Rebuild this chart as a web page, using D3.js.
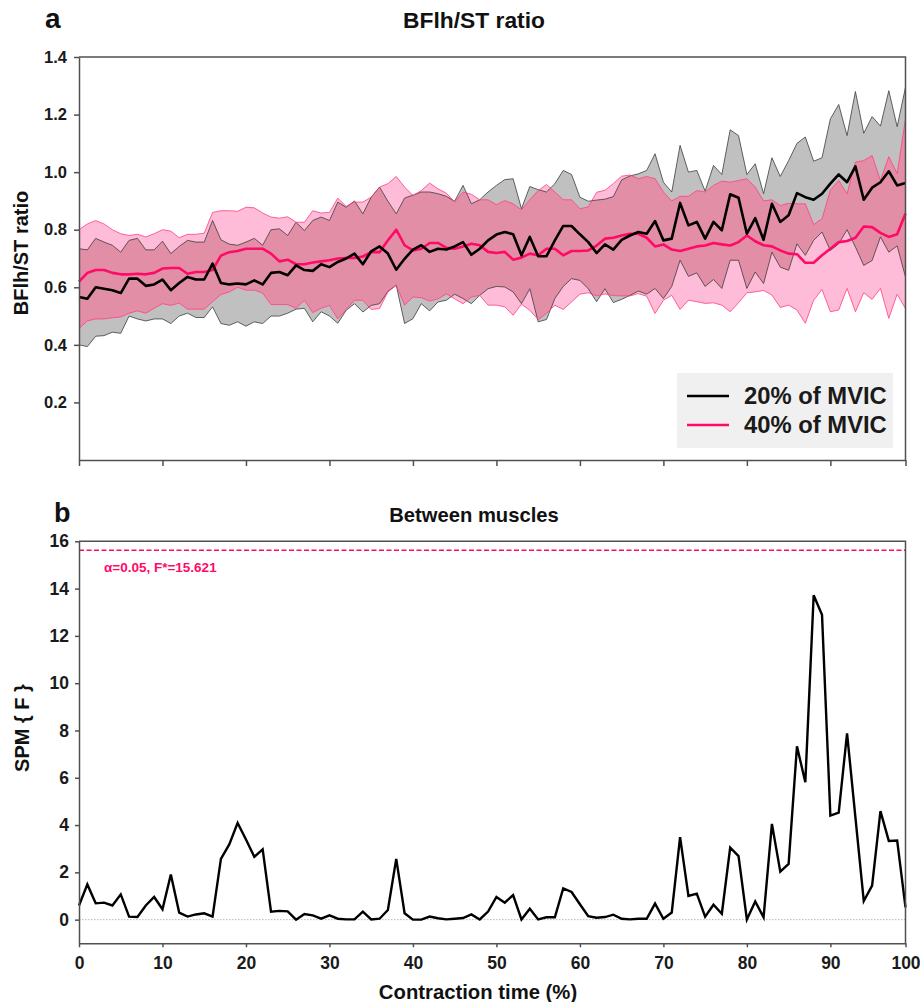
<!DOCTYPE html>
<html>
<head>
<meta charset="utf-8">
<script src="https://cdn.jsdelivr.net/npm/d3@7"></script>
<style>
  body { margin: 0; background: #fff; }
  svg { display: block; font-family: "Liberation Sans", Arial, sans-serif; font-weight: bold; }
  .axis path, .axis line { stroke: #505050; stroke-width: 1.5; }
  .axis text { fill: #1a1a1a; font-weight: bold; }
</style>
</head>
<body>
<div id="chart"></div>
<script>
/*global d3*/
(function () {
    "use strict";

    // contraction time index (0 .. 99), last tick labelled 100
    var timeIdx = d3.range(0, 100);
    var xTicks = [0, 10, 20, 30, 40, 50, 60, 70, 80, 90, 99];
    var xTickLabels = ["0", "10", "20", "30", "40", "50", "60", "70", "80", "90", "100"];
    var yTicksA = [0.2, 0.4, 0.6, 0.8, 1.0, 1.2, 1.4];
    var yTicksB = [0, 2, 4, 6, 8, 10, 12, 14, 16];

    // 20% MVIC: mean, mean+SD, mean-SD
    var mean20 = [
        0.566, 0.56, 0.60, 0.595, 0.59, 0.58, 0.63, 0.63, 0.605, 0.61,
        0.627, 0.59, 0.615, 0.636, 0.627, 0.627, 0.682, 0.615, 0.61, 0.613,
        0.61, 0.624, 0.61, 0.65, 0.653, 0.642, 0.676, 0.66, 0.657, 0.68,
        0.67, 0.688, 0.70, 0.717, 0.68, 0.725, 0.742, 0.717, 0.661, 0.699,
        0.731, 0.746, 0.723, 0.734, 0.731, 0.742, 0.757, 0.713, 0.734, 0.763,
        0.783, 0.792, 0.784, 0.711, 0.775, 0.708, 0.708, 0.763, 0.813, 0.813,
        0.784, 0.757, 0.719, 0.749, 0.731, 0.765, 0.780, 0.792, 0.786, 0.830,
        0.763, 0.769, 0.893, 0.815, 0.827, 0.769, 0.827, 0.798, 0.923, 0.911,
        0.786, 0.840, 0.765, 0.89, 0.827, 0.85, 0.927, 0.913, 0.904, 0.925,
        0.96, 0.992, 0.965, 1.02, 0.904, 0.946, 0.965, 1.003, 0.954, 0.962
    ];
    var upper20 = [
        0.734, 0.73, 0.77, 0.757, 0.746, 0.722, 0.763, 0.77, 0.73, 0.73,
        0.76, 0.717, 0.742, 0.763, 0.757, 0.757, 0.832, 0.765, 0.75, 0.746,
        0.757, 0.77, 0.746, 0.80, 0.803, 0.78, 0.826, 0.797, 0.832, 0.844,
        0.832, 0.896, 0.878, 0.90, 0.855, 0.913, 0.948, 0.899, 0.855, 0.91,
        0.92, 0.931, 0.931, 0.925, 0.916, 0.899, 0.954, 0.89, 0.904, 0.931,
        0.954, 0.974, 0.977, 0.873, 0.95, 0.939, 0.931, 0.96, 1.006, 0.992,
        0.913, 0.899, 0.903, 0.906, 0.915, 0.973, 0.987, 0.994, 1.006, 1.064,
        0.965, 0.931, 1.093, 1.0, 1.006, 0.934, 1.023, 0.992, 1.147, 1.127,
        0.992, 1.029, 0.925, 1.05, 0.985, 1.04, 1.10, 1.122, 1.038, 1.05,
        1.185, 1.235, 1.127, 1.28, 1.135, 1.193, 1.16, 1.283, 1.158, 1.295
    ];
    var lower20 = [
        0.40, 0.394, 0.43, 0.432, 0.444, 0.44, 0.50, 0.49, 0.483, 0.49,
        0.49, 0.474, 0.50, 0.51, 0.495, 0.495, 0.532, 0.474, 0.468, 0.48,
        0.465, 0.48, 0.474, 0.50, 0.50, 0.51, 0.524, 0.527, 0.48, 0.515,
        0.50, 0.475, 0.52, 0.543, 0.514, 0.537, 0.543, 0.586, 0.607, 0.474,
        0.491, 0.543, 0.518, 0.549, 0.555, 0.576, 0.561, 0.543, 0.572, 0.595,
        0.603, 0.601, 0.584, 0.543, 0.595, 0.480, 0.488, 0.561, 0.603, 0.630,
        0.624, 0.595, 0.55, 0.595, 0.547, 0.558, 0.572, 0.587, 0.576, 0.596,
        0.561, 0.603, 0.694, 0.638, 0.650, 0.603, 0.627, 0.596, 0.694, 0.694,
        0.596, 0.653, 0.613, 0.722, 0.670, 0.659, 0.751, 0.711, 0.763, 0.792,
        0.728, 0.751, 0.80, 0.74, 0.676, 0.693, 0.775, 0.722, 0.744, 0.636
    ];

    // 40% MVIC: mean, mean+SD, mean-SD
    var mean40 = [
        0.62, 0.65, 0.66, 0.66, 0.65, 0.645, 0.645, 0.647, 0.645, 0.65,
        0.665, 0.667, 0.667, 0.647, 0.653, 0.653, 0.66, 0.71, 0.722, 0.726,
        0.734, 0.734, 0.734, 0.717, 0.69, 0.696, 0.68, 0.68, 0.686, 0.69,
        0.694, 0.70, 0.702, 0.702, 0.707, 0.722, 0.722, 0.763, 0.80, 0.746,
        0.728, 0.734, 0.754, 0.754, 0.737, 0.734, 0.742, 0.751, 0.746, 0.723,
        0.719, 0.723, 0.696, 0.703, 0.717, 0.711, 0.734, 0.734, 0.711, 0.726,
        0.726, 0.728, 0.745, 0.769, 0.772, 0.780, 0.786, 0.786, 0.772, 0.742,
        0.749, 0.731, 0.726, 0.734, 0.742, 0.745, 0.754, 0.749, 0.745, 0.757,
        0.780, 0.760, 0.746, 0.742, 0.728, 0.717, 0.715, 0.685, 0.685, 0.711,
        0.734, 0.757, 0.761, 0.772, 0.811, 0.809, 0.789, 0.775, 0.784, 0.856
    ];
    var upper40 = [
        0.80, 0.82, 0.832, 0.82, 0.80, 0.786, 0.78, 0.784, 0.775, 0.786,
        0.80, 0.795, 0.772, 0.784, 0.784, 0.788, 0.86, 0.866, 0.866, 0.864,
        0.878, 0.876, 0.858, 0.844, 0.84, 0.845, 0.826, 0.826, 0.866, 0.858,
        0.86, 0.91, 0.881, 0.896, 0.896, 0.913, 0.948, 0.96, 0.985, 0.948,
        0.919, 0.936, 0.962, 0.942, 0.927, 0.896, 0.931, 0.923, 0.904, 0.904,
        0.887, 0.901, 0.89, 0.869, 0.904, 0.936, 0.957, 0.931, 0.904, 0.904,
        0.873, 0.879, 0.93, 0.937, 0.96, 0.986, 0.99, 0.977, 0.985, 0.977,
        0.931, 0.90, 0.916, 0.916, 0.936, 0.931, 0.954, 0.969, 0.965, 0.971,
        0.977, 0.948, 0.90, 0.904, 0.884, 0.892, 0.89, 0.89, 0.818, 0.838,
        0.937, 0.971, 0.925, 1.035, 1.04, 1.058, 0.971, 1.054, 0.995, 1.185
    ];
    var lower40 = [
        0.457, 0.483, 0.49, 0.49, 0.494, 0.497, 0.51, 0.518, 0.51, 0.527,
        0.543, 0.537, 0.545, 0.524, 0.524, 0.524, 0.55, 0.575, 0.584, 0.60,
        0.59, 0.59, 0.58, 0.54, 0.54, 0.54, 0.527, 0.555, 0.512, 0.527,
        0.537, 0.49, 0.523, 0.555, 0.555, 0.523, 0.526, 0.584, 0.607, 0.538,
        0.566, 0.564, 0.552, 0.560, 0.577, 0.560, 0.543, 0.566, 0.572, 0.538,
        0.538, 0.532, 0.503, 0.541, 0.520, 0.488, 0.509, 0.538, 0.523, 0.549,
        0.576, 0.581, 0.57, 0.577, 0.571, 0.57, 0.57, 0.578, 0.569, 0.509,
        0.555, 0.572, 0.523, 0.555, 0.550, 0.544, 0.546, 0.538, 0.515, 0.546,
        0.581, 0.584, 0.589, 0.573, 0.530, 0.538, 0.521, 0.475, 0.555, 0.592,
        0.515, 0.521, 0.596, 0.515, 0.581, 0.558, 0.596, 0.492, 0.576, 0.526
    ];

    // SPM{F} between muscles
    var spmF = [
        0.6, 1.49, 0.69, 0.72, 0.6, 1.07, 0.13, 0.11, 0.6, 0.96,
        0.44, 1.91, 0.3, 0.13, 0.22, 0.27, 0.13, 2.57, 3.18, 4.09,
        3.39, 2.66, 2.97, 0.34, 0.37, 0.35, 0.0, 0.24, 0.18, 0.04,
        0.18, 0.04, 0.01, 0.01, 0.34, 0.01, 0.04, 0.41, 2.57, 0.27,
        0.0, 0.0, 0.13, 0.06, 0.01, 0.04, 0.07, 0.22, 0.01, 0.34,
        0.96, 0.72, 1.04, 0.01, 0.46, 0.01, 0.1, 0.1, 1.32, 1.17,
        0.65, 0.15, 0.08, 0.11, 0.21, 0.04, 0.01, 0.04, 0.04, 0.68,
        0.04, 0.3, 3.49, 1.0, 1.1, 0.13, 0.63, 0.25, 3.05, 2.69,
        0.01, 0.77, 0.1, 4.05, 2.03, 2.36, 7.33, 5.81, 13.72, 12.89,
        4.40, 4.53, 7.88, 4.33, 0.79, 1.44, 4.59, 3.33, 3.35, 0.52
    ];
    var fCrit = 15.621;

    var svg = d3.select("#chart").append("svg")
        .attr("width", 920)
        .attr("height", 1002);

    var x = d3.scaleLinear().domain([0, 99]).range([79, 905.5]);
    var yA = d3.scaleLinear().domain([0, 1.4]).range([460, 57]);
    var yB = d3.scaleLinear().domain([-1, 16]).range([943.3, 541.3]);

    var defs = svg.append("defs");

    // ---------- panel a ----------
    function band(up, lo) {
        return d3.area()
            .x(function (d) { return x(d); })
            .y0(function (d) { return yA(lo[d]); })
            .y1(function (d) { return yA(up[d]); })(timeIdx);
    }
    function lineA(vals) {
        return d3.line()
            .x(function (d) { return x(d); })
            .y(function (d) { return yA(vals[d]); })(timeIdx);
    }

    defs.append("clipPath").attr("id", "greyBand")
        .append("path").attr("d", band(upper20, lower20));

    var pa = svg.append("g");
    pa.append("path").attr("d", band(upper20, lower20)).attr("fill", "#c0c0c0");
    pa.append("path").attr("d", band(upper40, lower40)).attr("fill", "#ffbcd8");
    pa.append("path").attr("d", band(upper40, lower40)).attr("fill", "#e28ea6")
        .attr("clip-path", "url(#greyBand)");

    [upper20, lower20].forEach(function (s) {
        pa.append("path").attr("d", lineA(s)).attr("fill", "none")
            .attr("stroke", "#3c3c3c").attr("stroke-width", 0.8);
    });
    [upper40, lower40].forEach(function (s) {
        pa.append("path").attr("d", lineA(s)).attr("fill", "none")
            .attr("stroke", "#ff3d80").attr("stroke-width", 0.8);
    });
    pa.append("path").attr("d", lineA(mean40)).attr("fill", "none")
        .attr("stroke", "#ff0a66").attr("stroke-width", 2.6).attr("stroke-linejoin", "round");
    pa.append("path").attr("d", lineA(mean20)).attr("fill", "none")
        .attr("stroke", "#000").attr("stroke-width", 2.6).attr("stroke-linejoin", "round");

    // frame a
    svg.append("path").attr("d", "M79,57H905.5V460")
        .attr("fill", "none").attr("stroke", "#505050").attr("stroke-width", 1.5);

    svg.append("g").attr("class", "axis").attr("transform", "translate(79,0)")
        .call(d3.axisLeft(yA).tickValues(yTicksA).tickFormat(d3.format(".1f"))
            .tickSize(5).tickSizeOuter(0).tickPadding(7))
        .selectAll("text").style("font-size", "16.5px");
    svg.append("g").attr("class", "axis").attr("transform", "translate(0,460)")
        .call(d3.axisBottom(x).tickValues(xTicks).tickFormat("")
            .tickSize(6).tickSizeOuter(0));

    // legend
    var lg = svg.append("g");
    lg.append("rect").attr("x", 677).attr("y", 373).attr("width", 216).attr("height", 75)
        .attr("fill", "#f0f0f0");
    var legendItems = [
        {label: "20% of MVIC", color: "#000"},
        {label: "40% of MVIC", color: "#ff0a66"}
    ];
    legendItems.forEach(function (d, i) {
        var yy = 396 + i * 29;
        lg.append("line").attr("x1", 687).attr("x2", 729).attr("y1", yy).attr("y2", yy)
            .attr("stroke", d.color).attr("stroke-width", 2.6);
        lg.append("text").attr("x", 744).attr("y", yy + 8).text(d.label)
            .attr("font-size", 23.8).attr("fill", "#1a1a1a");
    });

    svg.append("text").attr("x", 45).attr("y", 28).text("a")
        .attr("font-size", 28).attr("fill", "#111");
    svg.append("text").attr("x", 474).attr("y", 28).attr("text-anchor", "middle")
        .text("BFlh/ST ratio").attr("font-size", 22.8).attr("fill", "#111");
    svg.append("text").attr("transform", "translate(28,253) rotate(-90)")
        .attr("text-anchor", "middle").text("BFlh/ST ratio")
        .attr("font-size", 20).attr("fill", "#111");

    // ---------- panel b ----------
    var pb = svg.append("g");
    pb.append("line").attr("x1", x(0)).attr("x2", x(99)).attr("y1", yB(0)).attr("y2", yB(0))
        .attr("stroke", "#999").attr("stroke-width", 0.7).attr("stroke-dasharray", "1.5,1.5");
    pb.append("line").attr("x1", x(0)).attr("x2", x(99)).attr("y1", yB(fCrit)).attr("y2", yB(fCrit))
        .attr("stroke", "#ff0a66").attr("stroke-width", 1.6).attr("stroke-dasharray", "5,2.5");
    pb.append("text").attr("x", 104).attr("y", 572).text("α=0.05, F*=15.621")
        .attr("font-size", 13.5).attr("fill", "#ff0a66");
    pb.append("path")
        .attr("d", d3.line()
            .x(function (d) { return x(d); })
            .y(function (d) { return yB(spmF[d]); })(timeIdx))
        .attr("fill", "none").attr("stroke", "#000").attr("stroke-width", 2.4)
        .attr("stroke-linejoin", "miter");

    svg.append("path").attr("d", "M79,541.3H905.5V943.3")
        .attr("fill", "none").attr("stroke", "#505050").attr("stroke-width", 1.5);

    svg.append("g").attr("class", "axis").attr("transform", "translate(79,0)")
        .call(d3.axisLeft(yB).tickValues(yTicksB).tickSize(4).tickSizeOuter(0).tickPadding(6))
        .selectAll("text").style("font-size", "17.5px");
    svg.append("g").attr("class", "axis").attr("transform", "translate(0,943.3)")
        .call(d3.axisBottom(x).tickValues(xTicks)
            .tickFormat(function (d, i) { return xTickLabels[i]; })
            .tickSize(4).tickSizeOuter(0).tickPadding(9))
        .selectAll("text").style("font-size", "17.5px");

    svg.append("text").attr("x", 54).attr("y", 522).text("b")
        .attr("font-size", 27).attr("fill", "#111");
    svg.append("text").attr("x", 474).attr("y", 522).attr("text-anchor", "middle")
        .text("Between muscles").attr("font-size", 20.2).attr("fill", "#111");
    svg.append("text").attr("transform", "translate(29,728) rotate(-90)")
        .attr("text-anchor", "middle").text("SPM { F }")
        .attr("font-size", 20).attr("fill", "#111");
    svg.append("text").attr("x", 478).attr("y", 999).attr("text-anchor", "middle")
        .text("Contraction time (%)").attr("font-size", 20.3).attr("fill", "#111");
}());
</script>
</body>
</html>
